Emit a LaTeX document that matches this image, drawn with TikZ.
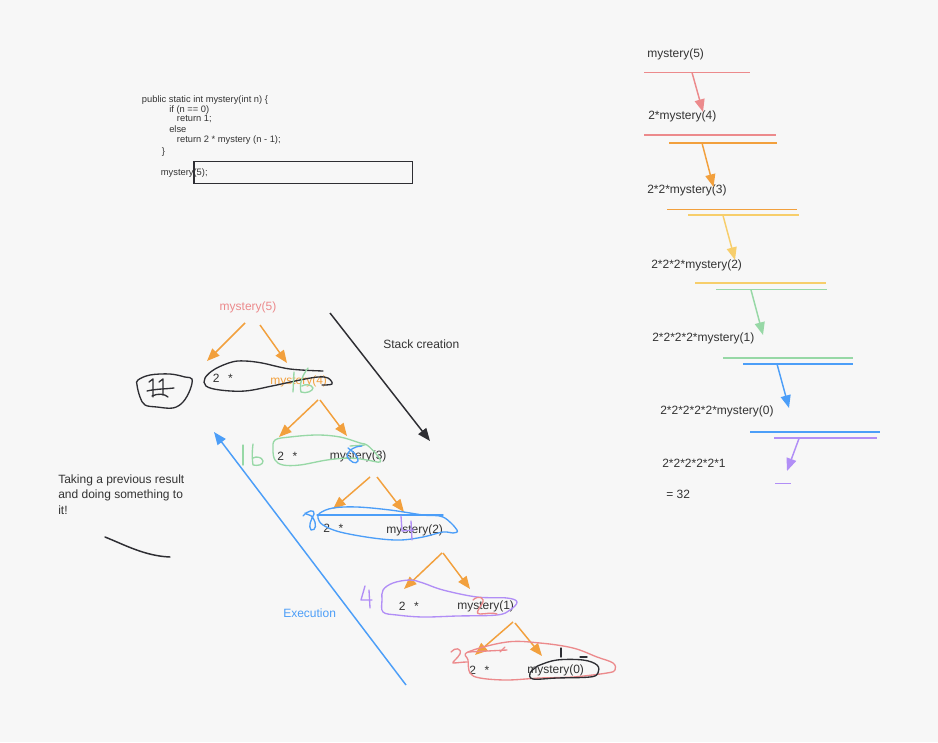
\documentclass[tikz,border=0pt]{standalone}
\usepackage{fontspec}
\setmainfont{Liberation Sans}
\usetikzlibrary{arrows.meta}
\definecolor{bg}{HTML}{F7F7F7}
\definecolor{cred}{HTML}{EC8A8C}
\definecolor{corange}{HTML}{F2A03D}
\definecolor{cyellow}{HTML}{F7CE6B}
\definecolor{cgreen}{HTML}{97D8A6}
\definecolor{cblue}{HTML}{4C9EF8}
\definecolor{cpurple}{HTML}{B18EF6}
\definecolor{cdark}{HTML}{2E2E33}
\definecolor{ctext}{HTML}{333333}
\tikzset{
  txt/.style={font=\fontsize{9}{11.25}\selectfont, text=ctext, inner sep=0pt, anchor=west},
  codetxt/.style={font=\fontsize{7}{8}\selectfont, text=ctext, inner sep=0pt, anchor=west},
  arr/.style={line width=1.1pt, -{Triangle[length=9.5pt,width=7.5pt]}},
  bar/.style={line width=1.4pt},
  hand/.style={line width=1pt, line cap=round, line join=round},
}
\begin{document}
\begin{tikzpicture}[x=0.75pt,y=-0.75pt]
\path[fill=bg,use as bounding box] (0,0) rectangle (938,742);

% ---------------- code block ----------------
\node[codetxt] (c1) at (141.7,100) {public static int mystery(int n) \{};
\node[codetxt] (c2) at (169,110) {if (n == 0)};
\node[codetxt] (c3) at (176.7,118.5) {return 1;};
\node[codetxt] (c4) at (169,129) {else};
\node[codetxt] (c5) at (176.7,140) {return 2 * mystery (n - 1);};
\node[codetxt] (c6) at (161.7,152) {\}};
\node[codetxt] (c7) at (160.7,173.5) {mystery(5);};
\draw[cdark,line width=1.1pt] (194,161.5) rectangle (412.5,183.3);

% ---------------- right column ----------------
\node[txt] (r0) at (647,54) {mystery(5)};
\node[txt] (r1) at (648,116) {2*mystery(4)};
\node[txt] (r2) at (647,190) {2*2*mystery(3)};
\node[txt] (r3) at (651,265) {2*2*2*mystery(2)};
\node[txt] (r4) at (652,338) {2*2*2*2*mystery(1)};
\node[txt] (r5) at (660,411) {2*2*2*2*2*mystery(0)};
\node[txt] (r6) at (662,463) {2*2*2*2*2*1};
\node[txt] (r7) at (666,494) {= 32};

\draw[bar,cred] (644,72.5) -- (750,72.5);
\draw[bar,cred] (644,135) -- (776,135);
\draw[bar,corange] (669,142.7) -- (777,142.7);
\draw[bar,corange] (667,209.5) -- (797,209.5);
\draw[bar,cyellow] (688,215.3) -- (799,215.3);
\draw[bar,cyellow] (695,283.3) -- (826,283.3);
\draw[bar,cgreen] (716,289.5) -- (827,289.5);
\draw[bar,cgreen] (723,357.7) -- (853,357.7);
\draw[bar,cblue] (743,363.7) -- (853,363.7);
\draw[bar,cblue] (750,431.7) -- (880,431.7);
\draw[bar,cpurple] (774,438.3) -- (877,438.3);
\draw[bar,cpurple] (775,483.5) -- (791,483.5);

\coordinate (ra1) at (692,72.5);  \coordinate (rb1) at (703,112);
\coordinate (ra2) at (702,143);   \coordinate (rb2) at (713.5,187);
\coordinate (ra3) at (723,215.5); \coordinate (rb3) at (735,260);
\coordinate (ra4) at (751,290);   \coordinate (rb4) at (763,335);
\coordinate (ra5) at (777,364);   \coordinate (rb5) at (789,408);
\coordinate (ra6) at (799,438.5); \coordinate (rb6) at (787,471);
\draw[arr,cred] (ra1) -- (rb1);
\draw[arr,corange] (ra2) -- (rb2);
\draw[arr,cyellow] (ra3) -- (rb3);
\draw[arr,cgreen] (ra4) -- (rb4);
\draw[arr,cblue] (ra5) -- (rb5);
\draw[arr,cpurple] (ra6) -- (rb6);

% ---------------- tree ----------------
\node[txt,anchor=center,text=cred] (t5) at (248,307.5) {mystery(5)};

\node[txt] (m4a) at (212.5,378) {2\hspace{6.5pt}*};
\node[txt,text=corange] (m4) at (270,381.5) {mystery(4)};
\node[txt] (m3a) at (277,456) {2\hspace{6.5pt}*};
\node[txt] (m3) at (329.5,456) {mystery(3)};
\node[txt] (m2a) at (323,528) {2\hspace{6.5pt}*};
\node[txt] (m2) at (386,530) {mystery(2)};
\node[txt] (m1a) at (398.5,606) {2\hspace{6.5pt}*};
\node[txt] (m1) at (457,606) {mystery(1)};
\node[txt] (m0a) at (469,670) {2\hspace{6.5pt}*};
\node[txt] (m0) at (527,670) {mystery(0)};

\coordinate (o1) at (245,323);  \coordinate (o1l) at (207,361); \coordinate (o1b) at (260,325); \coordinate (o1r) at (287,363);
\coordinate (o2) at (318,400);  \coordinate (o2l) at (279,437); \coordinate (o2b) at (320,400); \coordinate (o2r) at (347,436);
\coordinate (o3) at (370,477);  \coordinate (o3l) at (333,509); \coordinate (o3b) at (377,477); \coordinate (o3r) at (404,512);
\coordinate (o4) at (442,553);  \coordinate (o4l) at (404,589); \coordinate (o4b) at (443,553); \coordinate (o4r) at (470,589);
\coordinate (o5) at (513,622);  \coordinate (o5l) at (475,655); \coordinate (o5b) at (515,623); \coordinate (o5r) at (542,656);
\foreach \a/\b in {o1/o1l,o1b/o1r,o2/o2l,o2b/o2r,o3/o3l,o3b/o3r,o4/o4l,o4b/o4r,o5/o5l,o5b/o5r}
  \draw[arr,corange] (\a) -- (\b);

% stack creation / execution
\coordinate (sc1) at (330,313); \coordinate (sc2) at (430,441);
\draw[arr,cdark] (sc1) -- (sc2);
\node[txt] (sct) at (383,344.5) {Stack creation};
\coordinate (ex1) at (406,685); \coordinate (ex2) at (214,432);
\draw[arr,cblue] (ex1) -- (ex2);
\node[txt,text=cblue] (ext) at (283,613) {Execution};

% note
\node[txt] (n1) at (58,480) {Taking a previous result};
\node[txt] (n2) at (58,495) {and doing something to};
\node[txt] (n3) at (58,510) {it!};
\draw[hand,cdark,line width=1.1pt] (105,537) .. controls (125,545) and (145,556) .. (170,557);

% ---------------- hand-drawn marks ----------------
% black blob round 2 * mystery(4)
\draw[hand,cdark] plot[smooth,tension=0.6] coordinates {(323,371) (290,369) (262,363) (245,361) (232,362) (215,369) (205,378) (206,386) (220,390) (245,391) (272,386) (300,380) (318,377) (328,378) (332,384) (322,385)};
% black circled result
\draw[hand,cdark] plot[smooth cycle,tension=0.6] coordinates {(138,380) (150,375) (170,374) (185,377) (192,379) (190,390) (183,402) (173,408) (157,407) (145,405) (140,397) (137,385)};
\draw[hand,cdark] (149,382) -- (153,379) -- (153,397);
\draw[hand,cdark] (159,382) -- (163,379) -- (163,395);
\draw[hand,cdark] (147,391) .. controls (155,389) and (165,389) .. (174,388);
\draw[hand,cdark] (152,396) .. controls (158,393) and (165,394) .. (168,397);
% green 16 over mystery(4)
\draw[hand,cgreen] (294,372) -- (293,392);
\draw[hand,cgreen] (308,368) .. controls (302,376) and (299,384) .. (301,392) .. controls (306,394) and (313,391) .. (313,388) .. controls (311,384) and (305,384) .. (302,386);

% green blob round mystery(3)
\draw[hand,cgreen] plot[smooth cycle,tension=0.6] coordinates {(275,440) (290,437) (317,435) (340,437) (360,443) (367,445) (377,455) (380,462) (367,460) (350,458) (327,460) (300,465) (283,465) (275,460) (273,450)};
\draw[hand,cgreen] (350,446) -- (365,445);
% green 16 left
\draw[hand,cgreen] (243,445) -- (243,465);
\draw[hand,cgreen] (253,444) .. controls (252,451) and (252,459) .. (253,465) .. controls (258,466) and (263,465) .. (263,461) .. controls (262,457) and (256,456) .. (253,458);
% blue 8 over mystery(3)
\draw[hand,cblue] (362,446) .. controls (355,446) and (348,450) .. (347,456) .. controls (350,462) and (356,465) .. (358,461) .. controls (359,456) and (352,451) .. (348,448);

% blue blob round mystery(2)
\draw[hand,cblue] plot[smooth cycle,tension=0.6] coordinates {(320,513) (333,508) (357,507) (390,510) (423,515) (443,517) (457,530) (453,533) (443,532) (423,537) (400,540) (373,538) (340,532) (323,525) (318,518)};
\draw[hand,cblue] (317,515) -- (443,515);
% blue 8 left
\draw[hand,cblue] (303,516) .. controls (308,510) and (315,509) .. (314,514) .. controls (311,520) and (308,526) .. (311,530) .. controls (316,531) and (317,524) .. (313,518) .. controls (311,514) and (306,515) .. (305,513);
% purple 4 over mystery(2)
\draw[hand,cpurple] (401,516) -- (402,531) -- (414,530);
\draw[hand,cpurple] (411,521) -- (412,540);

% purple blob round mystery(1)
\draw[hand,cpurple] plot[smooth cycle,tension=0.6] coordinates {(383,590) (393,583) (410,580) (423,583) (443,590) (477,597) (507,598) (517,602) (510,610) (497,615) (457,616) (423,617) (397,615) (383,612) (382,600)};
% purple 4 left
\draw[hand,cpurple] (365,586) -- (361,600) -- (372,600);
\draw[hand,cpurple] (369,590) -- (370,608);
% red 2 over mystery(1)
\draw[hand,cred] (473,600) .. controls (478,595) and (486,597) .. (482,604) .. controls (478,610) and (475,614) .. (480,614) .. controls (486,614) and (492,612) .. (497,614);

% red blob round mystery(0)
\draw[hand,cred] plot[smooth cycle,tension=0.6] coordinates {(468,652) (507,642) (540,643) (573,648) (597,657) (613,663) (615,670) (607,673) (573,677) (540,678) (507,680) (480,678) (470,673) (468,660)};
\draw[hand,cred] (468,652) -- (507,650);
\draw[hand,cred] (500,652) -- (505,647);
% red 2 left
\draw[hand,cred] (451,652) .. controls (455,647) and (462,648) .. (460,654) .. controls (457,659) and (452,662) .. (453,663) .. controls (457,663) and (462,662) .. (467,662);
% black loop round mystery(0) and 1
\draw[hand,cdark] plot[smooth cycle,tension=0.6] coordinates {(540,665) (557,660) (583,660) (597,665) (598,673) (590,677) (557,678) (533,679) (530,673) (535,668)};
\draw[hand,cdark] (561,648) -- (561,657);
\draw[hand,cdark] (580,657) -- (587,657);
\end{tikzpicture}
\end{document}
